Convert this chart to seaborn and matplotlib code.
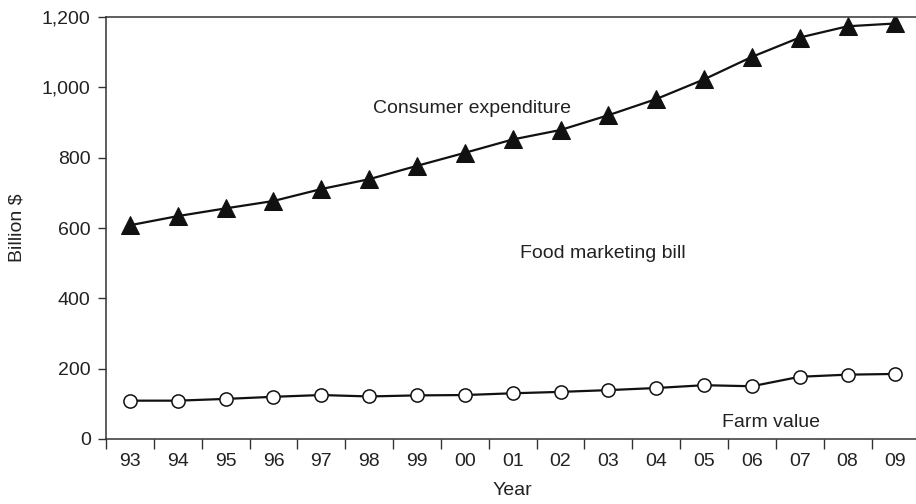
import numpy as np
import pandas as pd
import matplotlib
matplotlib.use("Agg")
import matplotlib.pyplot as plt
import seaborn as sns
from matplotlib.ticker import FuncFormatter, FixedLocator

# ---------------------------
# Data
# ---------------------------
years = ["93", "94", "95", "96", "97", "98", "99", "00", "01",
         "02", "03", "04", "05", "06", "07", "08", "09"]
consumer_expenditure = [608, 634, 656, 677, 711, 739, 777, 814, 852,
                        879, 921, 967, 1023, 1087, 1142, 1174, 1182]
farm_value = [109, 109, 114, 120, 125, 121, 124, 125, 130,
              134, 139, 145, 153, 150, 177, 183, 185]

df = pd.DataFrame({
    "pos": np.arange(len(years)),
    "year": years,
    "consumer": consumer_expenditure,
    "farm": farm_value,
})

# ---------------------------
# Plot
# ---------------------------
sns.set_style("white")
plt.rcParams["font.family"] = ["Liberation Sans", "DejaVu Sans"]

fig = plt.figure(figsize=(9.16, 5.04), dpi=100)
ax = fig.add_axes([0.1157, 0.129, 0.888, 0.837])

sns.lineplot(data=df, x="pos", y="consumer", ax=ax, color="#111111",
             linewidth=1.6, marker="^", markersize=12.5,
             markerfacecolor="#111111", markeredgecolor="#111111")
sns.lineplot(data=df, x="pos", y="farm", ax=ax, color="#111111",
             linewidth=1.6, marker="o", markersize=9.5,
             markerfacecolor="white", markeredgecolor="#111111",
             markeredgewidth=1.1)

ax.set_xlim(-0.5, len(years) - 0.5)
ax.set_ylim(0, 1200)
ax.set_yticks(range(0, 1201, 200))
ax.yaxis.set_major_formatter(FuncFormatter(lambda v, p: f"{int(v):,}"))

# ticks at category boundaries, labels at centres
ax.xaxis.set_major_locator(FixedLocator(np.arange(len(years) + 1) - 0.5))
ax.xaxis.set_minor_locator(FixedLocator(np.arange(len(years))))
ax.set_xticklabels([])
ax.set_xticklabels(years, minor=True)
ax.tick_params(axis="x", which="major", direction="out", length=7,
               width=1, color="#333333", bottom=True)
ax.tick_params(axis="x", which="minor", length=0, pad=10,
               labelsize=14, labelcolor="#222222")
ax.tick_params(axis="y", direction="out", length=6, width=1,
               color="#333333", left=True, labelsize=14,
               labelcolor="#222222", pad=5)

for side in ["left", "bottom", "top"]:
    ax.spines[side].set_color("#333333")
    ax.spines[side].set_linewidth(1.1)
ax.spines["right"].set_visible(False)

ax.set_xlabel("Year", fontsize=14, color="#222222", labelpad=9)
ax.set_ylabel("Billion $", fontsize=14, color="#222222", labelpad=12)

ax.text(7.16, 941, "Consumer expenditure", ha="center", va="center",
        fontsize=14, color="#222222")
ax.text(9.88, 529, "Food marketing bill", ha="center", va="center",
        fontsize=14, color="#222222")
ax.text(13.4, 48, "Farm value", ha="center", va="center",
        fontsize=14, color="#222222")

fig.savefig("out.png", dpi=100)
